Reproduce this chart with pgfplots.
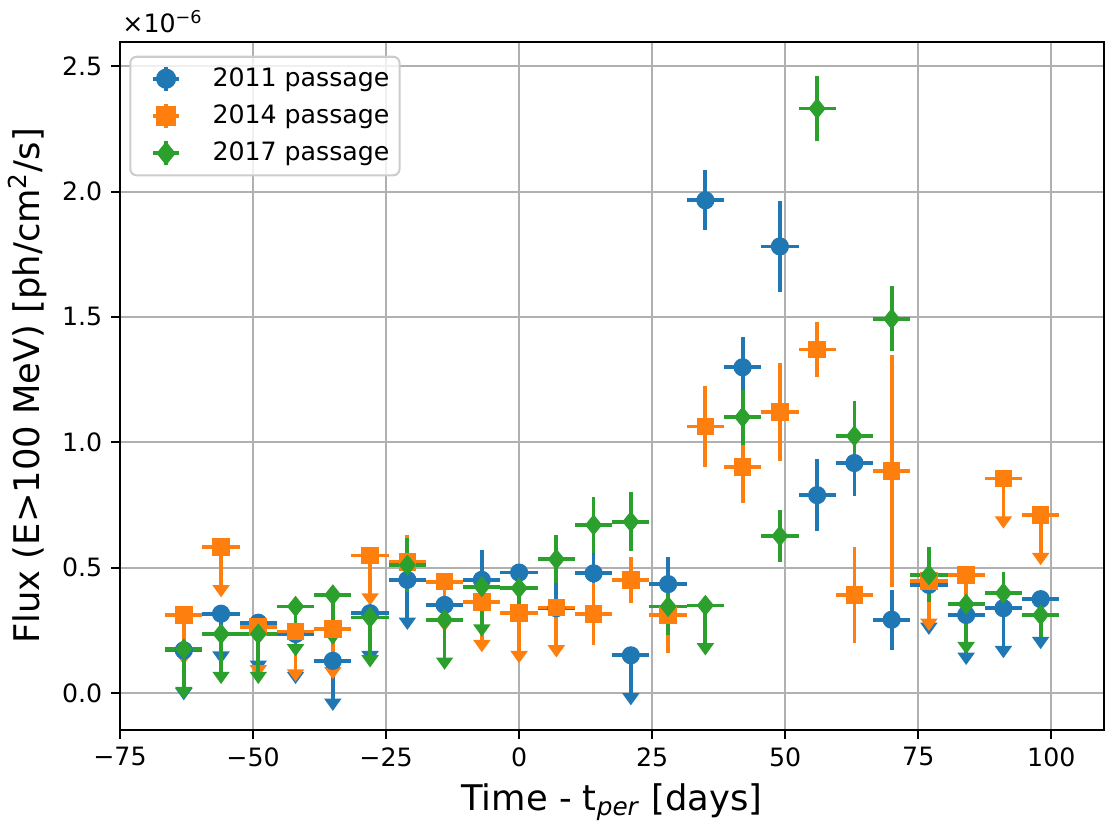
\documentclass[border=0pt]{standalone}
\usepackage{fontspec}
\setmainfont{DejaVu Sans}[ItalicFont={DejaVu Sans Oblique},BoldItalicFont={DejaVu Sans Bold Oblique}]
\usepackage{pgfplots}
\pgfplotsset{compat=1.18}
\usepackage{pgfplotstable}
\usetikzlibrary{arrows.meta}
\definecolor{c1}{HTML}{1F77B4}
\definecolor{c2}{HTML}{FF7F0E}
\definecolor{c3}{HTML}{2CA02C}
\definecolor{gridc}{HTML}{B0B0B0}
\definecolor{legc}{HTML}{CCCCCC}

% 2011 passage
\pgfplotstableread{
x y ey
-14 0.351 0.08
-7 0.451 0.12
7 0.338 0.10
14 0.477 0.10
28 0.434 0.11
35 1.965 0.12
42 1.299 0.12
49 1.781 0.18
56 0.789 0.143
63 0.917 0.133
70 0.292 0.12
}\bDet
\pgfplotstableread{
x y
-63 0.170
-56 0.316
-49 0.280
-42 0.235
-35 0.128
-28 0.318
-21 0.451
0 0.480
21 0.150
77 0.431
84 0.311
91 0.338
98 0.374
}\bUL
% 2014 passage
\pgfplotstableread{
x y ey
-21 0.521 0.11
14 0.314 0.123
21 0.451 0.093
28 0.310 0.15
35 1.063 0.161
42 0.902 0.146
49 1.120 0.195
56 1.370 0.11
63 0.391 0.19
70 0.884 0.463
}\oDet
\pgfplotstableread{
x y
-63 0.311
-56 0.581
-49 0.262
-42 0.245
-35 0.254
-28 0.548
-14 0.444
-7 0.362
0 0.318
7 0.341
77 0.447
84 0.471
91 0.855
98 0.709
}\oUL
% 2017 passage
\pgfplotstableread{
x y ey
-21 0.510 0.107
0 0.418 0.08
7 0.533 0.096
14 0.670 0.11
21 0.683 0.117
28 0.345 0.113
42 1.100 0.11
49 0.626 0.105
56 2.331 0.13
63 1.025 0.138
70 1.492 0.13
77 0.471 0.11
91 0.398 0.083
98 0.311 0.086
}\gDet
\pgfplotstableread{
x y
-63 0.175
-56 0.235
-49 0.235
-42 0.345
-35 0.391
-28 0.301
-14 0.292
-7 0.424
35 0.349
84 0.354
}\gUL

\pgfplotsset{
  detbars/.style={#1, only marks, mark=none,
    error bars/.cd, x dir=both, x fixed=3.5, y dir=both, y explicit,
    error mark=none, error bar style={line width=1.5pt, #1}},
  ulbars/.style={#1, only marks, mark=none,
    error bars/.cd, x dir=both, x fixed=3.5,
    error mark=none, error bar style={line width=1.5pt, #1}},
  ularrow/.style={#1, line width=1.5pt, mark=none,
    -{Triangle[width=6.6pt,length=4.9pt]}, quiver={u=0, v=-0.2}},
}

\begin{document}
\begin{tikzpicture}
\begin{axis}[
  name=ax,
  scale only axis, width=390.1pt, height=272.7pt,
  xmin=-75, xmax=109.9, ymin=-0.147, ymax=2.597,
  axis line style={line width=0.8pt},
  xtick={-75,-50,-25,0,25,50,75,100},
  xticklabels={−75,−50,−25,0,25,50,75,100},
  ytick={0,0.5,1,1.5,2,2.5},
  yticklabels={0.0,0.5,1.0,1.5,2.0,2.5},
  tick align=outside, tick pos=left,
  major tick length=3.5pt,
  every tick/.style={black, line width=0.8pt},
  grid=major, grid style={gridc, line width=0.8pt},
  tick label style={font=\fontsize{10}{12}\selectfont},
  label style={font=\fontsize{14}{16.8}\selectfont},
  xlabel={Time - t\textsubscript{\textit{per}} [days]},
  ylabel={Flux (E>100 MeV) [ph/cm\textsuperscript{2}/s]},
  xlabel style={at={(axis description cs:0.5,-0.117)}, anchor=base},
  ylabel style={at={(axis description cs:-0.0813,0.5)}, anchor=base},
  legend cell align=left,
  legend style={at={(rel axis cs:0,1)}, anchor=north west, xshift=3.7pt, yshift=-5.5pt,
    draw=legc, line width=0.8pt, rounded corners=2.5pt, fill=white, fill opacity=0.8,
    text opacity=1, font=\fontsize{10}{12}\selectfont,
    inner xsep=0pt, inner ysep=1.3pt, row sep=0pt, nodes={inner sep=0pt}},
]
\addlegendimage{legend image code/.code={
  \path[draw=none, fill=none] (-14.2pt,-7.4pt) rectangle (18.4pt,7.4pt);
  \draw[c1, line width=1.5pt, draw opacity=1, rounded corners=0pt] (-5.2pt,0)--(5.2pt,0) (0,-4.8pt)--(0,4.8pt);
  \fill[c1, fill opacity=1] (0,0) circle (3.6pt);}}
\addlegendentry{2011 passage\hspace*{4pt}}
\addlegendimage{legend image code/.code={
  \path[draw=none, fill=none] (-14.2pt,-7.4pt) rectangle (18.4pt,7.4pt);
  \draw[c2, line width=1.5pt, draw opacity=1, rounded corners=0pt] (-5.2pt,0)--(5.2pt,0) (0,-4.8pt)--(0,4.8pt);
  \fill[c2, fill opacity=1, rounded corners=0pt] (-3.5pt,-3.5pt) rectangle (3.5pt,3.5pt);}}
\addlegendentry{2014 passage\hspace*{4pt}}
\addlegendimage{legend image code/.code={
  \path[draw=none, fill=none] (-14.2pt,-7.4pt) rectangle (18.4pt,7.4pt);
  \draw[c3, line width=1.5pt, draw opacity=1, rounded corners=0pt] (-5.2pt,0)--(5.2pt,0) (0,-4.8pt)--(0,4.8pt);
  \fill[c3, fill opacity=1, rounded corners=0pt] (0,4.1pt)--(3.3pt,0)--(0,-4.1pt)--(-3.3pt,0)--cycle;}}
\addlegendentry{2017 passage\hspace*{4pt}}

% error bars and upper-limit arrows, in series order
\addplot[detbars=c1] table[x=x, y=y, y error=ey] {\bDet};
\addplot[ulbars=c1] table[x=x, y=y] {\bUL};
\addplot[ularrow=c1] table[x=x, y=y] {\bUL};
\addplot[detbars=c2] table[x=x, y=y, y error=ey] {\oDet};
\addplot[ulbars=c2] table[x=x, y=y] {\oUL};
\addplot[ularrow=c2] table[x=x, y=y] {\oUL};
\addplot[detbars=c3] table[x=x, y=y, y error=ey] {\gDet};
\addplot[ulbars=c3] table[x=x, y=y] {\gUL};
\addplot[ularrow=c3] table[x=x, y=y] {\gUL};

% markers on top
\addplot[c1, only marks, mark=*, mark size=3.4pt, mark options={solid, line width=0.4pt}] table[x=x, y=y] {\bDet};
\addplot[c1, only marks, mark=*, mark size=3.4pt, mark options={solid, line width=0.4pt}] table[x=x, y=y] {\bUL};
\addplot[c2, only marks, mark=square*, mark size=3.3pt, mark options={solid, line width=0.4pt}] table[x=x, y=y] {\oDet};
\addplot[c2, only marks, mark=square*, mark size=3.3pt, mark options={solid, line width=0.4pt}] table[x=x, y=y] {\oUL};
\addplot[c3, only marks, mark=diamond*, mark size=3.9pt, mark options={solid, line width=0.4pt, xscale=1.07}] table[x=x, y=y] {\gDet};
\addplot[c3, only marks, mark=diamond*, mark size=3.9pt, mark options={solid, line width=0.4pt, xscale=1.07}] table[x=x, y=y] {\gUL};
\end{axis}
\node[anchor=base west, inner sep=0pt, font=\fontsize{10}{12}\selectfont] at ([xshift=0.8pt,yshift=3.6pt]ax.north west) {×10\textsuperscript{−6}};
\path ([xshift=-46.6pt,yshift=-35.2pt]ax.south west) rectangle ([xshift=0.4pt,yshift=16.6pt]ax.north east);
\end{tikzpicture}
\end{document}
